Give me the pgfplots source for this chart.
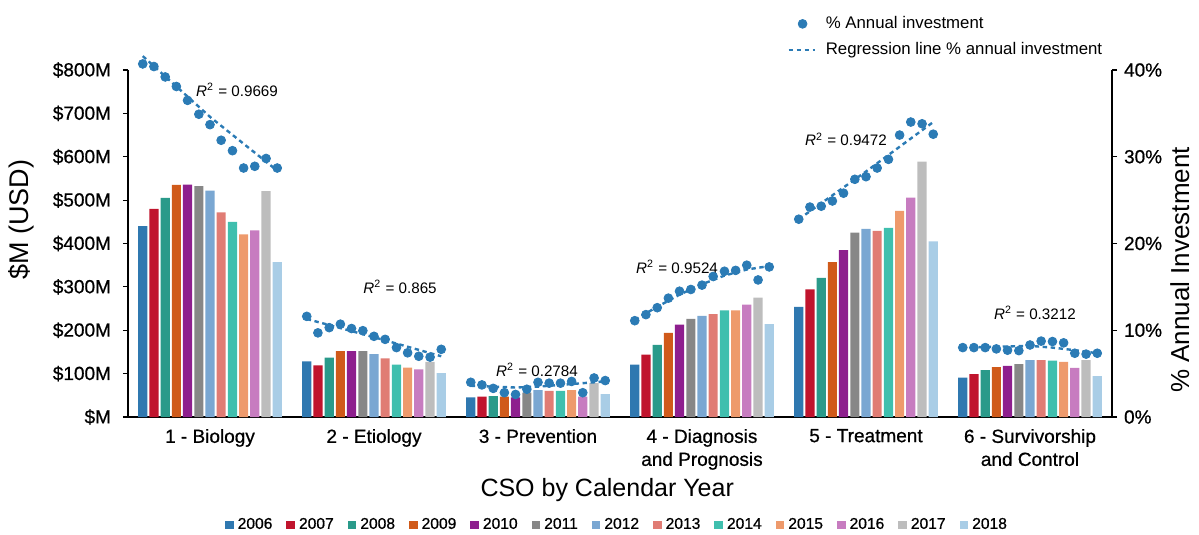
\documentclass[border=0pt]{standalone}
\usepackage{fontspec}
\setmainfont{Liberation Sans}
\newfontfamily\medfont[FakeBold=0.7]{Liberation Sans}
\usepackage{pgfplots}
\pgfplotsset{compat=1.18}
\definecolor{c06}{HTML}{2F78B0}
\definecolor{c07}{HTML}{C0142D}
\definecolor{c08}{HTML}{2A9A8A}
\definecolor{c09}{HTML}{D05A1A}
\definecolor{c10}{HTML}{8E1F8E}
\definecolor{c11}{HTML}{878787}
\definecolor{c12}{HTML}{7AA7D2}
\definecolor{c13}{HTML}{E07C74}
\definecolor{c14}{HTML}{3FBFAE}
\definecolor{c15}{HTML}{EE9A6C}
\definecolor{c16}{HTML}{C77CC0}
\definecolor{c17}{HTML}{BDBDBD}
\definecolor{c18}{HTML}{A9CDE6}
\definecolor{dotblue}{HTML}{2B7BB5}
\pgfplotsset{
  mybar/.style={ybar, bar width=0.056, draw=none,
    legend image code/.code={\fill[##1] (0pt,-2.15pt) rectangle (4.3pt,2.15pt);}},
  regline/.style={color=dotblue, line width=1.2pt, dash pattern=on 2.2pt off 1.8pt},
  dotleg/.style={legend image code/.code={\draw[##1] plot coordinates {(7pt,0pt)};}},
  lineleg/.style={legend image code/.code={\draw[##1] (0pt,0pt) -- (13pt,0pt);}},
}
\begin{document}
\begin{tikzpicture}
\useasboundingbox (-64pt,-59pt) rectangle (535.5pt,208.5pt);
\begin{axis}[
  at={(0,0)}, anchor=south west,
  scale only axis, width=492pt, height=173.5pt,
  xmin=-0.5, xmax=5.5, ymin=0, ymax=800,
  axis x line*=bottom, axis y line*=left,
  axis line style={-, black, line width=0.6pt},
  xtick={0,1,2,3,4,5},
  xticklabels={1 - Biology, 2 - Etiology, 3 - Prevention, {4 - Diagnosis\\and Prognosis}, 5 - Treatment, {6 - Survivorship\\and Control}},
  xticklabel style={align=center, font=\medfont\fontsize{9.5}{11.5}\selectfont},
  xtick style={draw=none},
  ytick={0,100,200,300,400,500,600,700,800},
  yticklabels={\$M,\$100M,\$200M,\$300M,\$400M,\$500M,\$600M,\$700M,\$800M},
  yticklabel style={font=\medfont\fontsize{9.5}{11.5}\selectfont, xshift=-2.5pt},
  tick align=outside, major tick length=2.5pt,
  ytick style={black, line width=0.6pt},
  xlabel={CSO by Calendar Year},
  xlabel style={at={(axis description cs:0.487,-0.21)}, anchor=center, font=\fontsize{12.5}{14}\selectfont},
  ylabel={\$M (USD)},
  ylabel style={at={(axis description cs:-0.108,0.568)}, anchor=center, font=\fontsize{13.5}{15}\selectfont},
  legend columns=13,
  legend style={at={(0.498,-0.311)}, anchor=center, draw=none, fill=none,
    font=\medfont\fontsize{7.8}{9}\selectfont,
    /tikz/every even column/.append style={column sep=5pt}},
]
\addplot[mybar, bar shift=-0.41, fill=c06] coordinates {(0,440) (1,128) (2,45) (3,121) (4,254) (5,91)};
\addlegendentry{2006}
\addplot[mybar, bar shift=-0.342, fill=c07] coordinates {(0,480) (1,119) (2,47) (3,144) (4,294) (5,99)};
\addlegendentry{2007}
\addplot[mybar, bar shift=-0.273, fill=c08] coordinates {(0,505) (1,137) (2,48) (3,166) (4,321) (5,108)};
\addlegendentry{2008}
\addplot[mybar, bar shift=-0.205, fill=c09] coordinates {(0,535) (1,152) (2,47) (3,194) (4,357) (5,115)};
\addlegendentry{2009}
\addplot[mybar, bar shift=-0.137, fill=c10] coordinates {(0,536) (1,152) (2,45) (3,213) (4,385) (5,118)};
\addlegendentry{2010}
\addplot[mybar, bar shift=-0.068, fill=c11] coordinates {(0,532) (1,152) (2,56) (3,226) (4,425) (5,122)};
\addlegendentry{2011}
\addplot[mybar, bar shift=0, fill=c12] coordinates {(0,522) (1,145) (2,62) (3,233) (4,434) (5,131)};
\addlegendentry{2012}
\addplot[mybar, bar shift=0.068, fill=c13] coordinates {(0,472) (1,135) (2,60) (3,237) (4,429) (5,131)};
\addlegendentry{2013}
\addplot[mybar, bar shift=0.137, fill=c14] coordinates {(0,450) (1,121) (2,60) (3,246) (4,436) (5,130)};
\addlegendentry{2014}
\addplot[mybar, bar shift=0.205, fill=c15] coordinates {(0,421) (1,114) (2,62) (3,246) (4,475) (5,127)};
\addlegendentry{2015}
\addplot[mybar, bar shift=0.273, fill=c16] coordinates {(0,430) (1,110) (2,47) (3,259) (4,506) (5,113)};
\addlegendentry{2016}
\addplot[mybar, bar shift=0.342, fill=c17] coordinates {(0,521) (1,127) (2,78) (3,275) (4,589) (5,131)};
\addlegendentry{2017}
\addplot[mybar, bar shift=0.41, fill=c18] coordinates {(0,357) (1,101) (2,53) (3,214) (4,405) (5,94)};
\addlegendentry{2018}
\end{axis}
\begin{axis}[
  at={(0,0)}, anchor=south west,
  scale only axis, width=492pt, height=173.5pt,
  xmin=-0.5, xmax=5.5, ymin=0, ymax=40,
  axis y line*=right, axis x line=none,
  axis line style={-, black, line width=0.6pt},
  ytick={0,10,20,30,40},
  yticklabels={0\%,10\%,20\%,30\%,40\%},
  yticklabel style={font=\medfont\fontsize{9.5}{11.5}\selectfont},
  tick align=outside, major tick length=2.5pt,
  ytick style={black, line width=0.6pt},
  ylabel={\% Annual Investment},
  ylabel style={at={(axis description cs:1.069,0.424)}, anchor=center, font=\fontsize{13}{15}\selectfont},
  clip=false,
  legend style={at={(0.6636,1.179)}, anchor=north west, draw=none, fill=none,
    font=\fontsize{8.4}{10}\selectfont, cells={anchor=west}, row sep=1.5pt},
]
\addplot[only marks, mark=*, mark size=2.2pt, color=dotblue, dotleg] coordinates {
(-0.41,40.7) (-0.342,40.4) (-0.273,39.2) (-0.205,38.1) (-0.137,36.5) (-0.068,34.9) (0,33.7) (0.068,31.9) (0.137,30.7) (0.205,28.7) (0.273,28.9) (0.342,29.8) (0.41,28.7)
(0.59,11.6) (0.658,9.7) (0.727,10.3) (0.795,10.7) (0.863,10.2) (0.932,9.95) (1,9.3) (1.068,8.95) (1.137,8.0) (1.205,7.4) (1.273,7.0) (1.342,6.9) (1.41,7.8)
(1.59,4.0) (1.658,3.7) (1.727,3.3) (1.795,2.8) (1.863,2.6) (1.932,3.2) (2,4.0) (2.068,3.9) (2.137,3.9) (2.205,4.1) (2.273,2.8) (2.342,4.5) (2.41,4.2)
(2.59,11.1) (2.658,11.8) (2.727,12.6) (2.795,13.7) (2.863,14.5) (2.932,14.7) (3,15.2) (3.068,16.2) (3.137,16.8) (3.205,16.9) (3.273,17.5) (3.342,15.8) (3.41,17.3)
(3.59,22.8) (3.658,24.2) (3.727,24.3) (3.795,24.9) (3.863,25.8) (3.932,27.4) (4,27.7) (4.068,28.7) (4.137,29.7) (4.205,32.5) (4.273,34.0) (4.342,33.8) (4.41,32.6)
(4.59,8.0) (4.658,8.0) (4.727,8.0) (4.795,7.85) (4.863,7.7) (4.932,7.65) (5,8.3) (5.068,8.75) (5.137,8.7) (5.205,8.55) (5.273,7.35) (5.342,7.25) (5.41,7.35)
};
\addlegendentry{\hspace{3pt}\% Annual investment}
\addplot[regline, lineleg] coordinates {(-0.41,41.6) (0,34.6) (0.41,28.4)};
\addlegendentry{\hspace{3pt}Regression line \% annual investment}
\addplot[regline, forget plot] coordinates {(0.59,11.3) (1,9.2) (1.41,7.0)};
\addplot[regline, forget plot] coordinates {(1.59,3.6) (1.863,3.4) (2,3.5) (2.41,4.1)};
\addplot[regline, forget plot] coordinates {(2.59,11.2) (2.727,12.7) (2.863,14.1) (3,15.3) (3.137,16.3) (3.273,17.0) (3.41,17.4)};
\addplot[regline, forget plot] coordinates {(3.59,22.8) (4,28.3) (4.41,34.0)};
\addplot[regline, forget plot] coordinates {(4.59,8.0) (5,8.2) (5.137,8.0) (5.273,7.7) (5.41,7.35)};
\begin{scope}[font=\fontsize{7.6}{9}\selectfont]
\node at (axis cs:0.165,37.7) {\textit{R}\textsuperscript{2} = 0.9669};
\node at (axis cs:1.159,15.0) {\textit{R}\textsuperscript{2} = 0.865};
\node at (axis cs:1.994,5.42) {\textit{R}\textsuperscript{2} = 0.2784};
\node at (axis cs:2.848,17.3) {\textit{R}\textsuperscript{2} = 0.9524};
\node at (axis cs:3.878,32.0) {\textit{R}\textsuperscript{2} = 0.9472};
\node at (axis cs:5.03,12.0) {\textit{R}\textsuperscript{2} = 0.3212};
\end{scope}
\end{axis}
\end{tikzpicture}
\end{document}
